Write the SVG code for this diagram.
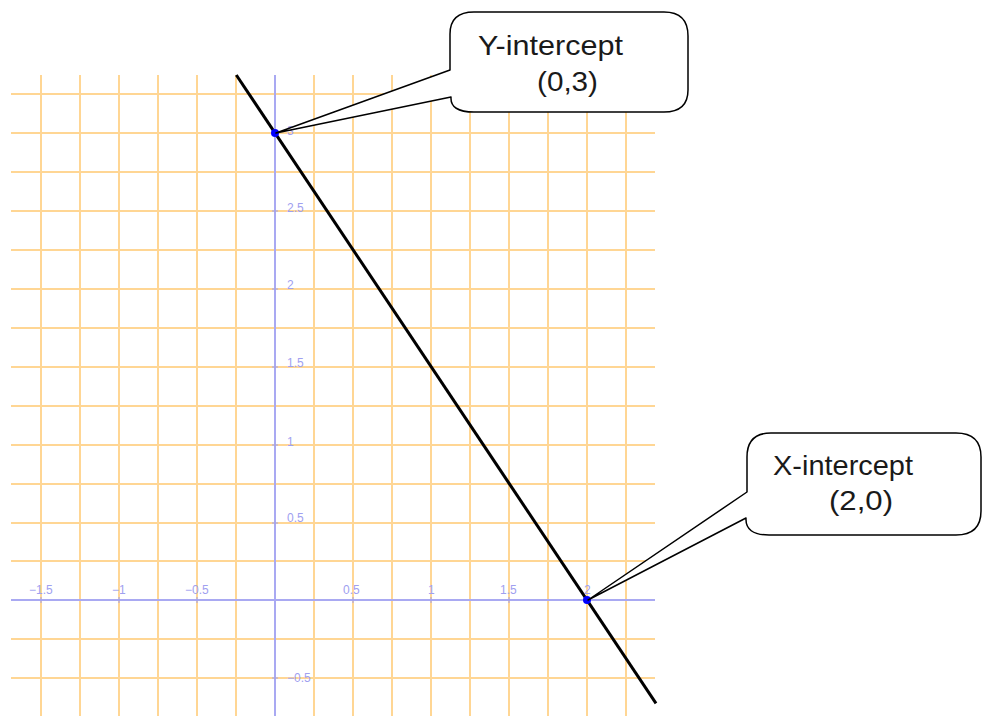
<svg xmlns="http://www.w3.org/2000/svg" width="982" height="716" viewBox="0 0 982 716">
<style>
.grid line{stroke:#ffd694;stroke-width:2}
.axis{stroke:#a9a9f2;stroke-width:2}
.tick{stroke:#a0a0e8;stroke-width:1}
.lbl{font-family:"Liberation Sans",Arial,sans-serif;font-size:12px;fill:#a0a0f0}
.bubble{fill:#fff;stroke:#000;stroke-width:1.5;stroke-linejoin:round}
.btxt{font-family:"Liberation Sans",Arial,sans-serif;font-size:28px;fill:#1a1a1a}
</style>
<rect width="982" height="716" fill="#fff"/>
<g id="grid" class="grid">
<line x1="11" y1="94.1" x2="655" y2="94.1"/>
<line x1="11" y1="133" x2="655" y2="133"/>
<line x1="11" y1="172" x2="655" y2="172"/>
<line x1="11" y1="211" x2="655" y2="211"/>
<line x1="11" y1="250" x2="655" y2="250"/>
<line x1="11" y1="289" x2="655" y2="289"/>
<line x1="11" y1="328" x2="655" y2="328"/>
<line x1="11" y1="367" x2="655" y2="367"/>
<line x1="11" y1="406" x2="655" y2="406"/>
<line x1="11" y1="445" x2="655" y2="445"/>
<line x1="11" y1="484" x2="655" y2="484"/>
<line x1="11" y1="523" x2="655" y2="523"/>
<line x1="11" y1="561" x2="655" y2="561"/>
<line x1="11" y1="639" x2="655" y2="639"/>
<line x1="11" y1="678" x2="655" y2="678"/>
<line x1="41" y1="75" x2="41" y2="716"/>
<line x1="80" y1="75" x2="80" y2="716"/>
<line x1="119" y1="75" x2="119" y2="716"/>
<line x1="158" y1="75" x2="158" y2="716"/>
<line x1="197" y1="75" x2="197" y2="716"/>
<line x1="236" y1="75" x2="236" y2="716"/>
<line x1="314" y1="75" x2="314" y2="716"/>
<line x1="353" y1="75" x2="353" y2="716"/>
<line x1="392" y1="75" x2="392" y2="716"/>
<line x1="431" y1="75" x2="431" y2="716"/>
<line x1="470" y1="75" x2="470" y2="716"/>
<line x1="509" y1="75" x2="509" y2="716"/>
<line x1="548" y1="75" x2="548" y2="716"/>
<line x1="587" y1="75" x2="587" y2="716"/>
<line x1="626" y1="75" x2="626" y2="716"/>
</g>
<g id="axes">
<line class="axis" x1="275" y1="75" x2="275" y2="716"/>
<line class="axis" x1="11" y1="600" x2="655" y2="600" stroke="#a4a4e4"/>
<g class="tick">
<line x1="41" y1="597" x2="41" y2="603"/>
<line x1="119" y1="597" x2="119" y2="603"/>
<line x1="197" y1="597" x2="197" y2="603"/>
<line x1="353" y1="597" x2="353" y2="603"/>
<line x1="431" y1="597" x2="431" y2="603"/>
<line x1="509" y1="597" x2="509" y2="603"/>
<line x1="587" y1="597" x2="587" y2="603"/>
<line x1="272" y1="133" x2="278" y2="133"/>
<line x1="272" y1="211" x2="278" y2="211"/>
<line x1="272" y1="289" x2="278" y2="289"/>
<line x1="272" y1="367" x2="278" y2="367"/>
<line x1="272" y1="445" x2="278" y2="445"/>
<line x1="272" y1="523" x2="278" y2="523"/>
<line x1="272" y1="678" x2="278" y2="678"/>
</g>
<g class="lbl">
<text x="29" y="594">−1.5</text>
<text x="112" y="594">−1</text>
<text x="185" y="594">−0.5</text>
<text x="343" y="594">0.5</text>
<text x="428" y="594">1</text>
<text x="500" y="594">1.5</text>
<text x="584" y="594">2</text>
<text x="287" y="135">3</text>
<text x="287" y="212">2.5</text>
<text x="287" y="289">2</text>
<text x="287" y="367">1.5</text>
<text x="287" y="446">1</text>
<text x="287" y="522">0.5</text>
<text x="287" y="682">−0.5</text>
</g>
</g>
<g id="plot-line">
<line x1="236.3" y1="75" x2="656" y2="703.3" stroke="#000" stroke-width="3"/>
<circle cx="275" cy="133" r="4" fill="#0000ff"/>
<circle cx="587" cy="600" r="4" fill="#0000ff"/>
</g>
<g id="y-intercept-callout">
<path class="bubble" d="M 450 70 L 450 34 Q 450 12 474 12 L 664 12 Q 688 12 688 36 L 688 90 Q 688 112 664 112 L 474 112 Q 450 112 451 97 L 276 133 Z"/>
<text class="btxt" x="478" y="55" textLength="145" lengthAdjust="spacingAndGlyphs">Y-intercept</text>
<text class="btxt" x="537" y="91" textLength="61" lengthAdjust="spacingAndGlyphs">(0,3)</text>
</g>
<g id="x-intercept-callout">
<path class="bubble" d="M 747 492 L 747 457 Q 747 433 771 433 L 956 433 Q 981 433 981 457 L 981 511 Q 981 535 956 535 L 769 535 Q 745 535 746 518 L 588 600 Z"/>
<text class="btxt" x="773" y="475" textLength="140" lengthAdjust="spacingAndGlyphs">X-intercept</text>
<text class="btxt" x="829" y="510" textLength="64" lengthAdjust="spacingAndGlyphs">(2,0)</text>
</g>
</svg>
